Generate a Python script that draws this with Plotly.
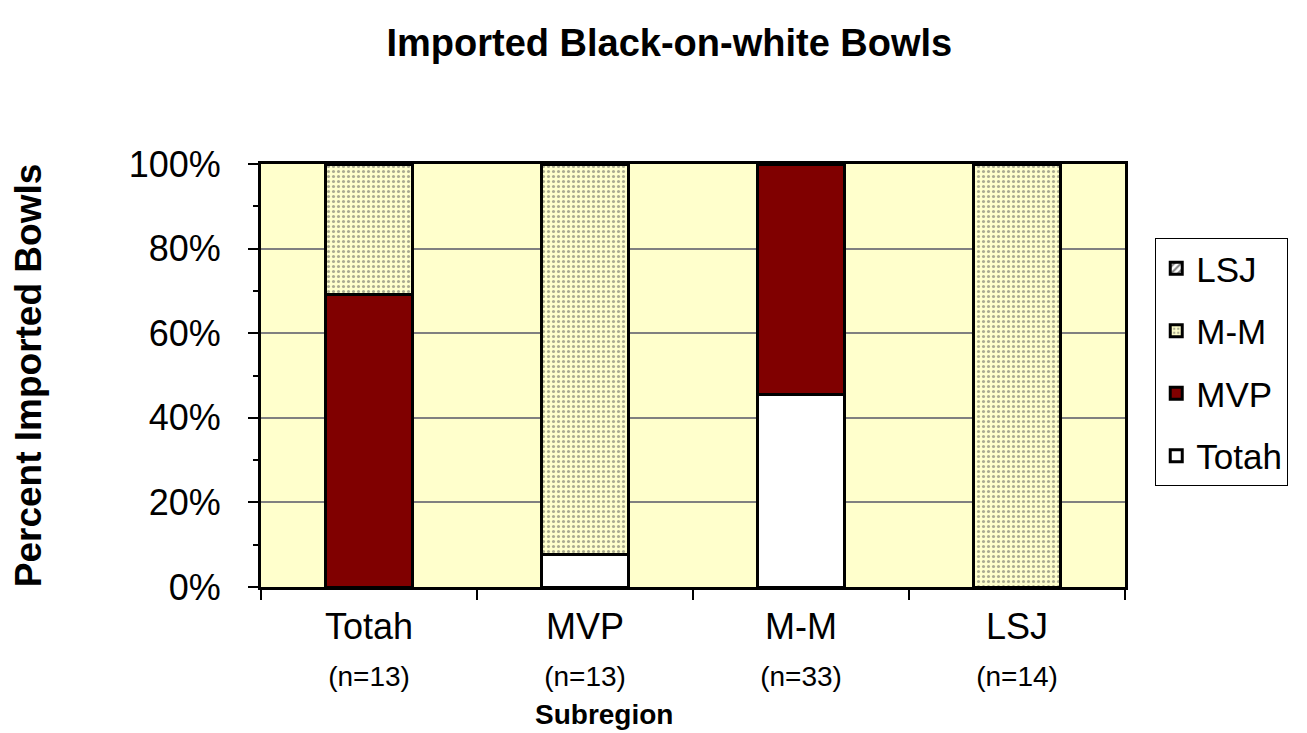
import plotly.graph_objects as go

categories = ["Totah", "MVP", "M-M", "LSJ"]
counts = [13, 13, 33, 14]
totah = [0.0, 7.7, 45.5, 0.0]
mvp = [69.2, 0.0, 54.5, 0.0]
mm = [30.8, 92.3, 0.0, 100.0]
lsj = [0.0, 0.0, 0.0, 0.0]


def nz(vals):
    return [v if v else None for v in vals]


ticktext = [f"{c}<br><span style='font-size:28px'>(n={n})</span>" for c, n in zip(categories, counts)]

fig = go.Figure()
line = dict(color="black", width=3)
fig.add_trace(go.Bar(name="Totah", x=categories, y=nz(totah),
                     marker=dict(color="white", line=line), legendgroup="a", legendrank=4))
fig.add_trace(go.Bar(name="MVP", x=categories, y=nz(mvp),
                     marker=dict(color="#800000", line=line), legendgroup="b", legendrank=3))
fig.add_trace(go.Bar(name="M-M", x=categories, y=nz(mm),
                     marker=dict(color="#FFFFCC", line=line,
                                 pattern=dict(shape=".", fgcolor="#555555", bgcolor="#FFFFCC",
                                              size=5, solidity=0.3)),
                     legendgroup="c", legendrank=2))
fig.add_trace(go.Bar(name="LSJ", x=categories, y=nz(lsj),
                     marker=dict(color="white", line=line,
                                 pattern=dict(shape="/", fgcolor="black", bgcolor="white",
                                              size=6, solidity=0.4)),
                     legendgroup="d", legendrank=1))

fig.update_layout(
    barmode="stack",
    bargap=0.6,
    width=1307, height=733,
    paper_bgcolor="white",
    plot_bgcolor="#FFFFCC",
    font=dict(family="Liberation Sans, Arial, sans-serif", color="black"),
    margin=dict(l=253, r=190, t=156, b=154, autoexpand=False),
    title=dict(text="<b>Imported Black-on-white Bowls</b>", x=0.506, xanchor="center",
               y=0.952, yanchor="middle", font=dict(size=38)),
    showlegend=True,
    legend=dict(x=1.035, xanchor="left", y=0.825, yanchor="top",
                traceorder="grouped", bordercolor="black", borderwidth=1,
                bgcolor="white", font=dict(size=35), tracegroupgap=14,
                itemwidth=30),
    annotations=[dict(text="<b>Subregion</b>", xref="paper", yref="paper",
                      x=0.397, y=-0.302, xanchor="center", yanchor="middle",
                      showarrow=False, font=dict(size=28))],
)
fig.update_xaxes(
    tickmode="array", tickvals=categories, ticktext=ticktext,
    tickfont=dict(size=36), ticks="outside", tickson="boundaries",
    ticklen=10, tickcolor="black", tickwidth=1.5, ticklabelstandoff=6,
    showline=True, linecolor="black", linewidth=3,
    mirror=True, automargin=False,
)
fig.update_yaxes(
    range=[0, 100], tickvals=[0, 20, 40, 60, 80, 100],
    ticktext=["0%", "20%", "40%", "60%", "80%", "100%"],
    tickfont=dict(size=36), ticks="outside", ticklen=10, tickcolor="black", tickwidth=1.5,
    ticklabelstandoff=20,
    minor=dict(ticks="outside", ticklen=5, dtick=10, tickcolor="black", showgrid=False),
    showgrid=True, gridcolor="#808080", gridwidth=2,
    showline=True, linecolor="black", linewidth=3, mirror=True,
    automargin=False,
    title=dict(text="<b>Percent Imported Bowls</b>", font=dict(size=37), standoff=78),
    zeroline=False,
)

fig.write_html("out.html")
